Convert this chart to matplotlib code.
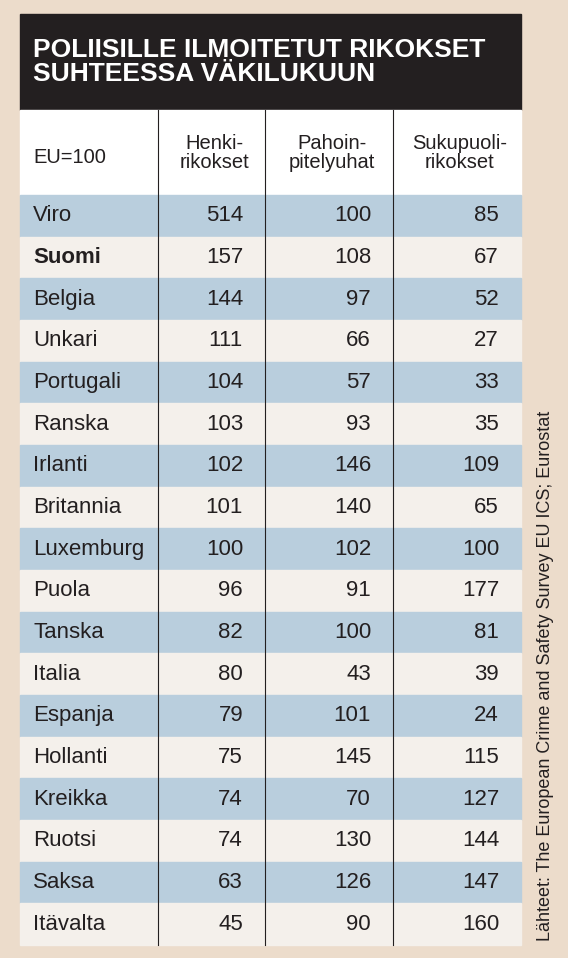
import matplotlib.pyplot as plt
from matplotlib.patches import Rectangle

# Data
maat = ['Viro', 'Suomi', 'Belgia', 'Unkari', 'Portugali', 'Ranska', 'Irlanti',
        'Britannia', 'Luxemburg', 'Puola', 'Tanska', 'Italia', 'Espanja',
        'Hollanti', 'Kreikka', 'Ruotsi', 'Saksa', 'Itävalta']
henkirikokset = [514, 157, 144, 111, 104, 103, 102, 101, 100, 96, 82, 80, 79, 75, 74, 74, 63, 45]
pahoinpitelyuhat = [100, 108, 97, 66, 57, 93, 146, 140, 102, 91, 100, 43, 101, 145, 70, 130, 126, 90]
sukupuolirikokset = [85, 67, 52, 27, 33, 35, 109, 65, 100, 177, 81, 39, 24, 115, 127, 144, 147, 160]
otsikot = ['EU=100', 'Henki-\nrikokset', 'Pahoin-\npitelyuhat', 'Sukupuoli-\nrikokset']

FONT = ['Liberation Sans Narrow', 'Liberation Sans', 'DejaVu Sans']
plt.rcParams['font.family'] = FONT

fig = plt.figure(figsize=(5.68, 9.58), dpi=100)
fig.patch.set_facecolor('#ecdccb')
ax = fig.add_axes([0, 0, 1, 1])
ax.set_xlim(0, 568)
ax.set_ylim(958, 0)
ax.axis('off')

left, right = 20, 521
top, title_bot, head_bot, bottom = 14, 110, 195, 945
cols = [left, 158, 265, 393, right]
row_h = (bottom - head_bot) / len(maat)
ink = '#231f20'

# otsikko
ax.add_patch(Rectangle((left, top), right - left, title_bot - top, color=ink))
ax.text(33, 62, 'POLIISILLE ILMOITETUT RIKOKSET\nSUHTEESSA VÄKILUKUUN', color='white',
        fontsize=19, fontweight='bold', va='center', ha='left', linespacing=1.05)

# sarakeotsikot
ax.add_patch(Rectangle((left, title_bot), right - left, head_bot - title_bot, color='white'))
ax.text(33, 157, otsikot[0], fontsize=14.5, va='center', color=ink)
for i in range(1, 4):
    ax.text((cols[i] + cols[i + 1]) / 2 + 3, 153, otsikot[i], fontsize=14.5, ha='center',
            va='center', color=ink, linespacing=1.05)

# rivit
for r, maa in enumerate(maat):
    y0 = head_bot + r * row_h
    ax.add_patch(Rectangle((left, y0), right - left, row_h,
                           color='#b9cedd' if r % 2 == 0 else '#f4f0eb'))
    yc = y0 + row_h / 2
    ax.text(33, yc, maa, fontsize=16, va='center', color=ink,
            fontweight='bold' if maa == 'Suomi' else 'normal')
    for i, v in enumerate([henkirikokset[r], pahoinpitelyuhat[r], sukupuolirikokset[r]]):
        ax.text(cols[i + 2] - 22, yc, str(v), fontsize=16, ha='right', va='center', color=ink)

for x in cols[1:4]:
    ax.plot([x, x], [title_bot, bottom], color=ink, lw=0.8)

ax.text(546, bottom - 4, 'Lähteet: The European Crime and Safety Survey EU ICS; Eurostat',
        rotation=90, fontsize=13, ha='center', va='bottom', color=ink)

fig.savefig('out.png', dpi=100, facecolor=fig.get_facecolor())
